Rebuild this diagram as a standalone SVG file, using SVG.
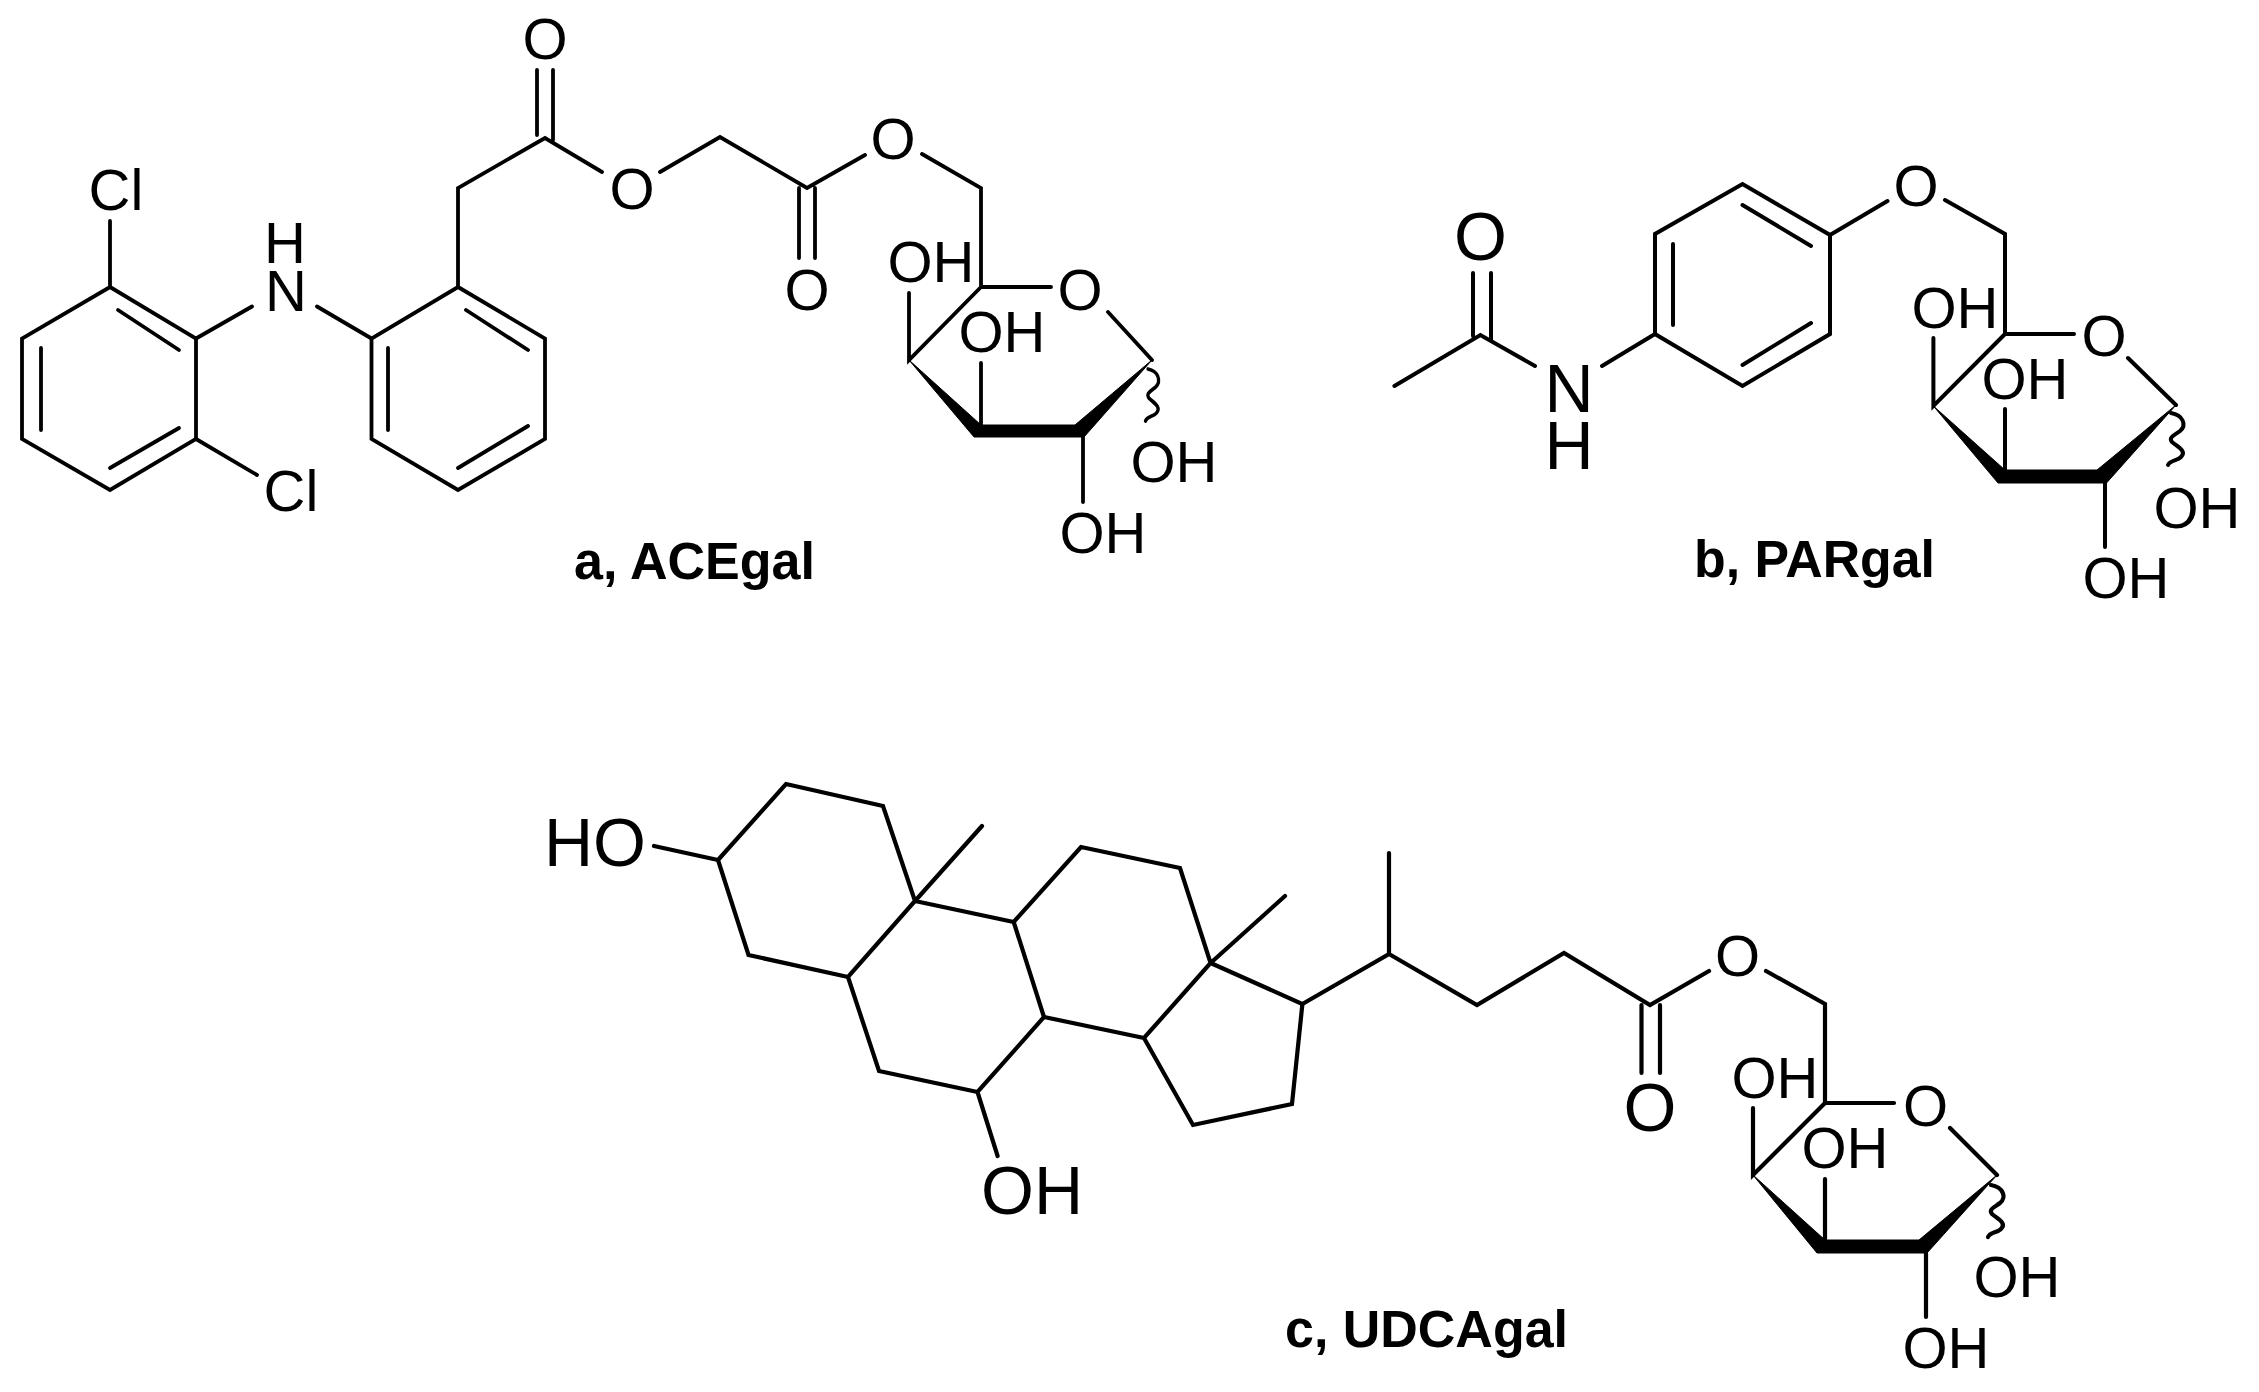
<svg xmlns="http://www.w3.org/2000/svg" width="2259" height="1392" viewBox="0 0 2259 1392">
<style>
.b{fill:none;stroke:#000;stroke-linecap:round;stroke-linejoin:miter}
#a .b{stroke-width:3.8}
#b-mol .b{stroke-width:4}
#c .b{stroke-width:4.2}
.w{fill:#000;stroke:#000;stroke-width:1;stroke-linejoin:round}
text{font-family:"Liberation Sans",Arial,sans-serif;fill:#000;text-anchor:middle}
.s{font-size:58px}
.l{font-size:68px}
.t{font-size:51px;font-weight:bold;text-anchor:start}
</style>
<defs>
<path id="wig" d="M0,0c12,2 16,12 9,18c-5,4 -12,6 -8,11c6,5 15,9 9,15c-4,4 -11,3 -13,8"/>
</defs>
<rect width="2259" height="1392" fill="#fff"/>

<g id="a">
<path class="b" d="M110,287L196,338.5L196,439L110,490L22,439L22,338.5ZM118,310L179,350M41,348V430M179,428L110,468"/>
<path class="b" d="M458,287L545,338.5L545,439L458,490L371.5,439L371.5,338.5ZM466,310L528,350M388,348V430M528,426L458,468"/>
<path class="b" d="M110,221V287M196,338.5L252,306.5M317,306.5L371.5,338.5M196,439L257,475"/>
<path class="b" d="M458,287V188L545,138L602,172M537,70V135M553,70V140M660,172L720,137L807,188L865,155M799,188V258M815,188V258M922,154L981,188V287L1051,287M1108,312L1152,360M981,287L909,360V293M981,425V363M1083,437V502"/>
<path class="w" d="M1152,360L1075,425L1084,437ZM1075,425H981L974,437H1084ZM909,360L981,425L974,437Z"/>
<use href="#wig" class="b" transform="translate(1148,369) scale(.85,1)"/>
<text class="s" x="116" y="210">Cl</text>
<text class="s" x="285" y="263">H</text>
<text class="s" x="286" y="311">N</text>
<text class="s" x="291" y="511">Cl</text>
<text class="s" x="545" y="59">O</text>
<text class="s" x="632" y="209">O</text>
<text class="s" x="807" y="310">O</text>
<text class="s" x="893" y="159">O</text>
<text class="s" x="1080" y="310">O</text>
<text class="s" x="931" y="282">OH</text>
<text class="s" x="1002" y="352">OH</text>
<text class="s" x="1174" y="482">OH</text>
<text class="s" x="1103" y="553">OH</text>
<text class="t" x="574" y="579" textLength="241" lengthAdjust="spacingAndGlyphs">a, ACEgal</text>
</g>

<g id="b-mol">
<path class="b" d="M1394.4,386L1480.4,335L1535,366M1473,273V336M1491,273V340M1602,366L1655,334"/>
<path class="b" d="M1655,334V234L1742.5,184L1830,235V334L1742.5,386ZM1742.5,205L1811,246M1673,244V325M1811,323L1742.5,365"/>
<path class="b" d="M1830,235L1887.5,201M1945,200L2005,234V334H2074M2128,358L2176,405M2005,334L1933.4,406V338M2005,470V409M2105,483V547"/>
<path class="w" d="M2176,405L2097,470L2106.5,483ZM2097,470H2005L1998,483H2106.5ZM1933.4,406L2005,470L1998,483Z"/>
<use href="#wig" class="b" transform="translate(2171,413)"/>
<text class="l" x="1480.4" y="260">O</text>
<text class="l" x="1569" y="412">N</text>
<text class="l" x="1569" y="469">H</text>
<text class="s" x="1916" y="206">O</text>
<text class="s" x="2104" y="356">O</text>
<text class="s" x="1955" y="328">OH</text>
<text class="s" x="2025" y="399">OH</text>
<text class="s" x="2197" y="528">OH</text>
<text class="s" x="2126" y="598">OH</text>
<text class="t" x="1694" y="577" textLength="241" lengthAdjust="spacingAndGlyphs">b, PARgal</text>
</g>

<g id="c">
<path class="b" d="M654,846L718,860M718,860L786,784L883,806L915,901L848,977L748.5,955ZM915,901L982,826M915,901L1013.7,922L1044,1017L977.5,1092L879,1071L848,977M977.5,1092L997.6,1156"/>
<path class="b" d="M1013.7,922L1081,847L1180,868L1210.6,963L1144,1038L1044,1017M1210.6,963L1285,896M1210.6,963L1302.4,1004L1292,1104L1193,1125L1144,1038"/>
<path class="b" d="M1302.4,1004L1389,954V853M1389,954L1477,1005L1564,953L1650,1005L1709,971M1641.5,1005V1073M1660,1005V1073M1766,971L1825,1004V1103H1894M1950,1128L1997,1175M1825,1103L1753,1175V1108M1825,1240V1179M1926,1253V1317"/>
<path class="w" d="M1997,1175L1919,1240L1927,1253ZM1919,1240H1825L1817,1253H1927ZM1753,1175L1825,1240L1817,1253Z"/>
<use href="#wig" class="b" transform="translate(1991,1185)"/>
<text class="l" x="595" y="866">HO</text>
<text class="l" x="1032" y="1214">OH</text>
<text class="l" x="1650" y="1131">O</text>
<text class="s" x="1737.5" y="976">O</text>
<text class="s" x="1925.6" y="1126">O</text>
<text class="s" x="1775" y="1098">OH</text>
<text class="s" x="1845" y="1168">OH</text>
<text class="s" x="2017" y="1297">OH</text>
<text class="s" x="1946" y="1368">OH</text>
<text class="t" x="1285" y="1347" textLength="283" lengthAdjust="spacingAndGlyphs">c, UDCAgal</text>
</g>
</svg>
